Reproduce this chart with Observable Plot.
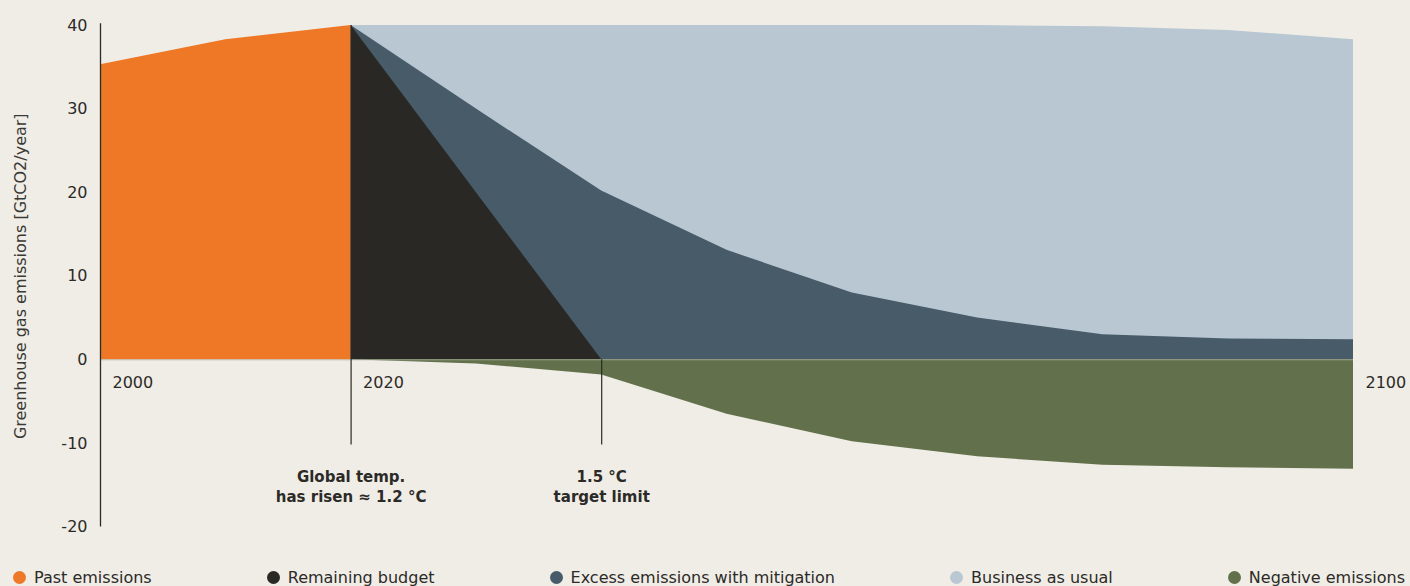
<!DOCTYPE html>
<html><head><meta charset="utf-8">
<script src="https://cdn.jsdelivr.net/npm/d3@7"></script>
<script src="https://cdn.jsdelivr.net/npm/@observablehq/plot@0.6"></script>
<style>
html,body{margin:0;padding:0;background:#f0ede6;overflow:hidden;font-family:"DejaVu Sans",sans-serif;}
#chart svg{display:block;}
#legend{display:flex;justify-content:space-between;align-items:center;height:26px;margin-top:4px;padding:0 5px 0 13px;font-size:16px;color:#2b2a27;}
.item{display:flex;align-items:center;white-space:nowrap;}
.sw{width:13px;height:13px;border-radius:50%;margin-right:8px;display:inline-block;}
</style></head>
<body><div id="chart"></div><div id="legend"></div>
<script>
// ---- data ----
const pastYears = [2000, 2010, 2020];
const pastValues = [35.3, 38.3, 40];
const budgetYears = [2020, 2040];
const budgetValues = [40, 0];
const scenarioYears = [2020, 2030, 2040, 2050, 2060, 2070, 2080, 2090, 2100];
const mitigationValues = [40, 30, 20.2, 13.1, 8, 5, 3, 2.5, 2.4];
const bauValues = [40, 40, 40, 40, 40, 40, 39.85, 39.4, 38.3];
const negativeValues = [0, -0.5, -1.8, -6.5, -9.8, -11.6, -12.6, -12.9, -13.1];
const yTicks = [-20, -10, 0, 10, 20, 30, 40];
const xTickLabels = [2000, 2020, 2100];
const markerYears = [2020, 2040];
const markerTops = [40, 0];
const markerBottom = -10.2;
const annotationTexts = ["Global temp.\nhas risen ≈ 1.2 °C", "1.5 °C\ntarget limit"];
const yTitle = "Greenhouse gas emissions [GtCO2/year]";
const seriesNames = ["Past emissions", "Remaining budget", "Excess emissions with mitigation", "Business as usual", "Negative emissions"];
const seriesColors = ["#ee7826", "#292824", "#475b68", "#b9c7d3", "#62714c"];

// ---- tables ----
const past = pastYears.map((x, i) => ({x, y: pastValues[i]}));
const budget = budgetYears.map((x, i) => ({x, y: budgetValues[i]}));
const mit = scenarioYears.map((x, i) => ({x, y: mitigationValues[i]}));
const bau = scenarioYears.map((x, i) => ({x, y: bauValues[i]}));
const neg = scenarioYears.map((x, i) => ({x, y: negativeValues[i]}));
const markers = markerYears.map((x, i) => ({x, top: markerTops[i], text: annotationTexts[i]}));
const ink = "#2b2a27";
const font = "'DejaVu Sans', sans-serif";

const chart = Plot.plot({
  width: 1410,
  height: 560,
  marginLeft: 100,
  marginRight: 57,
  marginTop: 25,
  marginBottom: 33.5,
  style: {background: "transparent", fontFamily: font, fontSize: "16px", color: ink},
  x: {domain: [2000, 2100], axis: null},
  y: {domain: [-20, 40], axis: null},
  marks: [
    Plot.areaY(bau, {x: "x", y: "y", fill: seriesColors[3]}),
    Plot.areaY(mit, {x: "x", y: "y", fill: seriesColors[2]}),
    Plot.areaY(budget, {x: "x", y: "y", fill: seriesColors[1]}),
    Plot.areaY(past, {x: "x", y: "y", fill: seriesColors[0]}),
    Plot.areaY(neg, {x: "x", y: "y", fill: seriesColors[4]}),
    Plot.ruleY([0], {x1: 2000, x2: 2100, stroke: "#a7ae9c", strokeWidth: 1, strokeOpacity: 0.7}),
    Plot.axisY({ticks: yTicks, tickSize: 0, tickPadding: 13, fontSize: 16, tickFormat: d => String(d), label: null}),
    Plot.text([yTitle], {frameAnchor: "left", textAnchor: "middle", dx: -80, rotate: -90, text: d => d, fontSize: 16, fill: "#3a3936"}),
    Plot.ruleX([2000], {y1: -20, y2: 40.2, stroke: ink, strokeWidth: 1.3}),
    Plot.ruleX(markers, {x: "x", y1: "top", y2: markerBottom, stroke: ink, strokeWidth: 1.2}),
    Plot.text(xTickLabels, {x: d => d, y: 0, dy: 23, dx: 12, textAnchor: "start", fill: ink, fontSize: 16, text: d => String(d)}),
    Plot.text(markers, {x: "x", y: -15.1, text: "text", fontWeight: "bold", fontSize: 15, lineHeight: 1.33, fill: ink})
  ]
});
document.getElementById("chart").appendChild(chart);

const legend = document.getElementById("legend");
seriesNames.forEach((name, i) => {
  const it = document.createElement("div");
  it.className = "item";
  it.innerHTML = `<span class="sw" style="background:${seriesColors[i]}"></span><span>${name}</span>`;
  legend.appendChild(it);
});
</script>
</body></html>
